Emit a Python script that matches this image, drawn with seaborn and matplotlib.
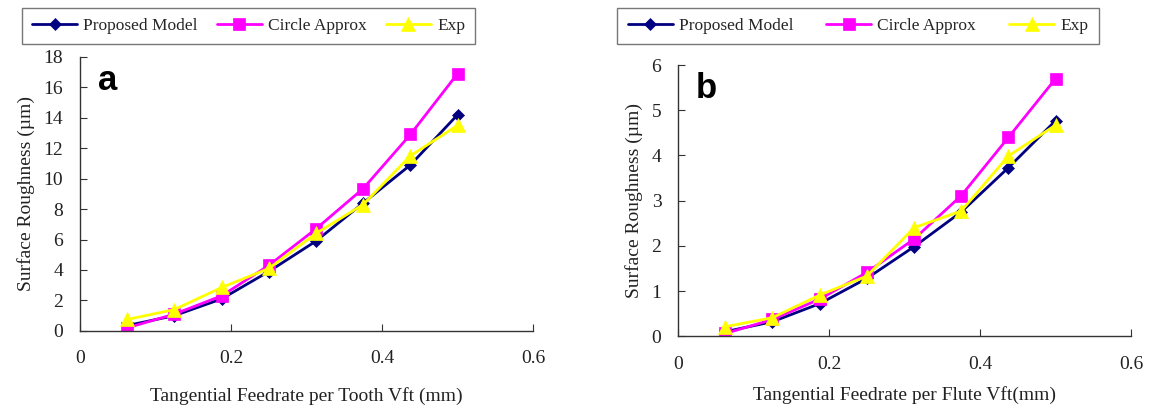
import pandas as pd
import matplotlib.pyplot as plt
import seaborn as sns

# feed per tooth / flute (mm)
vft = [0.0625, 0.125, 0.1875, 0.25, 0.3125, 0.375, 0.4375, 0.5]

# panel a: surface roughness (um) vs feed per tooth
a_proposed = [0.35, 1.0, 2.1, 3.9, 5.9, 8.4, 10.9, 14.2]
a_circle = [0.2, 1.1, 2.3, 4.3, 6.7, 9.35, 12.9, 16.9]
a_exp = [0.75, 1.4, 2.85, 4.1, 6.4, 8.3, 11.5, 13.5]

# panel b: surface roughness (um) vs feed per flute
b_proposed = [0.1, 0.32, 0.72, 1.28, 1.98, 2.75, 3.73, 4.77]
b_circle = [0.06, 0.37, 0.82, 1.41, 2.15, 3.11, 4.4, 5.7]
b_exp = [0.21, 0.41, 0.91, 1.33, 2.4, 2.77, 3.99, 4.67]

series_names = ['Proposed Model', 'Circle Approx', 'Exp']
colors = {'Proposed Model': '#000080', 'Circle Approx': '#FF00FF', 'Exp': '#FFFF00'}
markers = {'Proposed Model': 'D', 'Circle Approx': 's', 'Exp': '^'}
msizes = {'Proposed Model': 6, 'Circle Approx': 8.5, 'Exp': 10}


def long_frame(p, c, e):
    df = pd.DataFrame({'Vft': vft, 'Proposed Model': p, 'Circle Approx': c, 'Exp': e})
    return df.melt(id_vars='Vft', var_name='Series', value_name='Ra')


sns.set_style('white')
plt.rcParams['font.family'] = ['Liberation Serif', 'DejaVu Serif']

fig = plt.figure(figsize=(11.59, 4.09), dpi=100)
ax_a = fig.add_axes([0.069, 0.191, 0.391, 0.670])
ax_b = fig.add_axes([0.585, 0.178, 0.391, 0.663])

# axis, data, ymax, ystep, tag, xlabel, xlabel pad, legend box x-range, column spacing
panels = [
    (ax_a, long_frame(a_proposed, a_circle, a_exp), 18, 2, 'a',
     'Tangential Feedrate per Tooth Vft (mm)', 14, (25, 472), 1.1),
    (ax_b, long_frame(b_proposed, b_circle, b_exp), 6, 1, 'b',
     'Tangential Feedrate per Flute Vft(mm)', 10, (617, 1099), 1.9),
]

for ax, df, ymax, ystep, tag, xlabel, xpad, (lx0, lx1), colsp in panels:
    for name in series_names:
        sub = df[df['Series'] == name]
        sns.lineplot(data=sub, x='Vft', y='Ra', ax=ax, color=colors[name],
                     marker=markers[name], markersize=msizes[name],
                     markeredgecolor=colors[name], markeredgewidth=0.5,
                     linewidth=2, label=name, legend=False)
    ax.set_xlim(0, 0.6)
    ax.set_ylim(0, ymax)
    ax.set_xticks([0, 0.2, 0.4, 0.6])
    ax.set_xticklabels(['0', '0.2', '0.4', '0.6'])
    ax.set_yticks(range(0, ymax + 1, ystep))
    ax.tick_params(axis='x', direction='in', length=5, width=0.8, pad=14,
                   labelsize=14, bottom=True, colors='#333333', labelcolor='#222222')
    ax.tick_params(axis='y', direction='in', length=5, width=0.8, pad=12,
                   labelsize=14, left=True, colors='#333333', labelcolor='#222222')
    sns.despine(ax=ax)
    for s in ['left', 'bottom']:
        ax.spines[s].set_color('#333333')
        ax.spines[s].set_linewidth(1.0)
    ax.set_xlabel(xlabel, fontsize=14, labelpad=xpad, color='#222222')
    ax.set_ylabel('Surface Roughness (µm)', fontsize=14, labelpad=6, color='#222222')
    ax.text(0.04, 0.88, tag, transform=ax.transAxes, fontsize=25,
            fontweight='bold', family='Liberation Sans', color='black')

    handles, labels = ax.get_legend_handles_labels()
    fig.legend(handles, labels, ncol=3, fontsize=12.5,
               bbox_to_anchor=((lx0 + lx1) / 2 / 1159, 1 - 26 / 409),
               loc='center', frameon=True, fancybox=False, edgecolor='#555555',
               handlelength=2.6, handletextpad=0.35, columnspacing=colsp,
               borderpad=0.6, borderaxespad=0)
    leg = fig.legends[-1]
    leg.get_frame().set_linewidth(1.0)

fig.savefig('out.png', dpi=100)
